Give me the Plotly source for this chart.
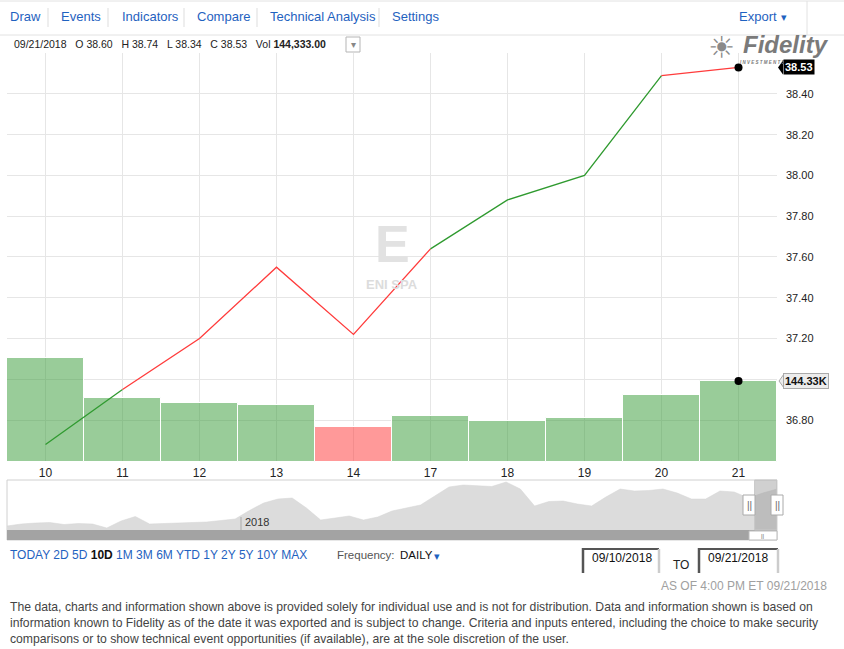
import pandas as pd
import plotly.graph_objects as go

W, H = 844, 649

# 10 trading days shown (09/10/2018 - 09/21/2018)
days = ["10", "11", "12", "13", "14", "17", "18", "19", "20", "21"]
close = [36.68, 36.95, 37.20, 37.55, 37.22, 37.64, 37.88, 38.00, 38.49, 38.53]
volume = [185300, 114000, 105100, 101600, 62400, 82000, 73000, 78400, 119400, 144333]
# did the day close above its open? colours the line segment ending on that day
day_up = [True, True, False, False, False, False, True, True, True, False]

price_ticks = [36.80, 37.00, 37.20, 37.40, 37.60, 37.80, 38.00, 38.20, 38.40, 38.60]
hidden_ticks = [37.00, 38.60]   # covered by the volume tag / top edge in the original

# navigator: weekly level of the longer history (relative height)
nav_dates = pd.date_range("2017-09-08", periods=55, freq="7D")
nav_level = [4, 6, 7, 7.5, 5.5, 6.5, 6, 2, 9, 13.5, 6, 6.5, 6.5, 7, 8, 9.5, 11, 19.5,
             27, 31, 32, 22, 10, 12, 14, 10, 13, 19, 22, 25, 34, 43, 45, 44.5, 43.5,
             48, 41, 24, 28.5, 29, 26, 24, 33, 41, 39, 39.5, 41, 37, 31, 31, 39, 38,
             32, 37, 41]
sel_start, sel_end = "2018-09-10", "2018-09-21"

GREEN_LINE = "#2f9a2f"
RED_LINE = "#ff3b3b"
GREEN_BAR = "rgba(51,153,51,0.5)"
RED_BAR = "rgba(255,51,51,0.5)"
BLUE = "#1f62c0"
FONT = "Liberation Sans, Arial, sans-serif"


def X(p):
    return p / W


def Y(p):
    return 1 - p / H


fig = go.Figure()

# volume bars (base axes, drawn first)
bar_colors = [GREEN_BAR if i == 0 or close[i] >= close[i - 1] else RED_BAR for i in range(len(close))]
fig.add_trace(go.Bar(x=days, y=volume, marker=dict(color=bar_colors, line=dict(color="white", width=1)),
                     width=1, xaxis="x", yaxis="y", showlegend=False, hoverinfo="skip"))

# price line, split into coloured runs
i = 1
while i < len(days):
    j = i
    while j + 1 < len(days) and day_up[j + 1] == day_up[i]:
        j += 1
    fig.add_trace(go.Scatter(x=days[i - 1:j + 1], y=close[i - 1:j + 1], mode="lines",
                             line=dict(color=GREEN_LINE if day_up[i] else RED_LINE, width=1.3),
                             xaxis="x", yaxis="y2", showlegend=False, hoverinfo="skip"))
    i = j + 1

# last point markers
fig.add_trace(go.Scatter(x=[days[-1]], y=[close[-1]], mode="markers", marker=dict(color="black", size=8),
                         xaxis="x", yaxis="y2", showlegend=False))
fig.add_trace(go.Scatter(x=[days[-1]], y=[volume[-1]], mode="markers", marker=dict(color="black", size=8),
                         xaxis="x", yaxis="y", showlegend=False))

# navigator area
fig.add_trace(go.Scatter(x=nav_dates, y=nav_level, mode="lines", fill="tozeroy",
                         line=dict(color="#d4d4d4", width=0.5), fillcolor="#dcdcdc",
                         xaxis="x3", yaxis="y3", showlegend=False, hoverinfo="skip"))

plot_x = [X(7), X(777)]
fig.update_layout(
    width=W, height=H,
    margin=dict(l=0, r=0, t=0, b=0),
    paper_bgcolor="white", plot_bgcolor="white",
    font=dict(family=FONT, color="#222", size=12),
    bargap=0,
    xaxis=dict(domain=plot_x, anchor="y", type="category", range=[-0.5, 9.5],
               showgrid=True, gridcolor="#e6e6e6", ticks="", showline=False, zeroline=False,
               tickfont=dict(size=12, color="#222"), ticklabelstandoff=2),
    yaxis=dict(domain=[Y(462), Y(53)], range=[0, 728800], visible=False, showgrid=False),
    yaxis2=dict(overlaying="y", anchor="x", side="right", range=[36.594, 38.601],
                tickvals=price_ticks,
                ticktext=["" if v in hidden_ticks else "%.2f" % v for v in price_ticks],
                showgrid=True, gridcolor="#e6e6e6", zeroline=False, showline=False, ticks="",
                tickfont=dict(size=11, color="#222"), ticklabelstandoff=8),
    xaxis3=dict(domain=plot_x, anchor="y3", type="date", range=["2017-09-08", "2018-09-21"], visible=False),
    yaxis3=dict(domain=[Y(530), Y(480)], range=[0, 50], visible=False),
)

shapes = []
ann = []


def line(x0, y0, x1, y1, color="#dddddd", width=1):
    shapes.append(dict(type="line", xref="paper", yref="paper", x0=X(x0), y0=Y(y0), x1=X(x1), y1=Y(y1),
                       line=dict(color=color, width=width)))


def rect(x0, y0, x1, y1, fill, lc=None, lw=1, layer="above"):
    shapes.append(dict(type="rect", xref="paper", yref="paper", x0=X(x0), y0=Y(y0), x1=X(x1), y1=Y(y1),
                       fillcolor=fill, line=dict(color=lc or fill, width=lw if lc else 0), layer=layer))


def text(x, y, s, size=12, color="#222", xanchor="left", **kw):
    ann.append(dict(xref="paper", yref="paper", x=X(x), y=Y(y), text=s, showarrow=False,
                    xanchor=xanchor, yanchor="middle", font=dict(size=size, color=color, family=kw.pop("family", FONT)), **kw))


# toolbar
line(0, 1, W, 1, "#e2e2e2")
line(0, 35, W, 35, "#e2e2e2")
for lbl, x in [("Draw", 8), ("Events", 59), ("Indicators", 120), ("Compare", 195),
               ("Technical Analysis", 268), ("Settings", 390)]:
    text(x, 17, lbl, 13, BLUE)
for x in [48, 108, 184, 257, 379]:
    line(x, 8, x, 27, "#dddddd")
text(737, 17, "Export", 13, BLUE)
text(779, 17, "▾", 11, BLUE)
line(807, 1, 807, 35, "#e2e2e2")

# info row
text(12, 44, "09/21/2018&nbsp;&nbsp; O 38.60&nbsp;&nbsp; H 38.74&nbsp;&nbsp; L 38.34&nbsp;&nbsp; C 38.53&nbsp;&nbsp; Vol <b>144,333.00</b>",
     10.5, "#222")
rect(346, 37, 360, 52, "white", "#b5b5b5")
text(353, 45, "▾", 10, "#888", xanchor="center")

# logo
text(721, 47, "☀", 30, "#8a8a8a", xanchor="center", family="DejaVu Sans")
text(786, 45, "<b><i>Fidelity</i></b>", 24, "#7a7a7a", xanchor="center")
text(762, 62, "<b><i>I N V E S T M E N T S</i></b>", 4.5, "#7a7a7a", xanchor="center")

# watermark
text(392, 244, "<b>E</b>", 52, "#e2e2e2", xanchor="center")
text(392, 284, "<b>ENI SPA</b>", 13, "#dcdcdc", xanchor="center")

# last value tags
ann.append(dict(xref="paper", yref="y2", x=X(783), y=close[-1], text="<b>%.2f</b>" % close[-1], showarrow=False,
                xanchor="left", yanchor="middle", bgcolor="black", borderpad=1,
                font=dict(size=11, color="white", family=FONT)))
shapes.append(dict(type="path", xref="paper", yref="y2", xsizemode="pixel", ysizemode="pixel",
                   xanchor=X(783), yanchor=close[-1], path="M -5 0 L 0 7 L 0 -7 Z",
                   fillcolor="black", line=dict(width=0)))
ann.append(dict(xref="paper", yref="y", x=X(783), y=volume[-1], text="<b>%.2fK</b>" % (volume[-1] / 1000),
                showarrow=False, xanchor="left", yanchor="middle", bgcolor="#ececec", bordercolor="#aaaaaa",
                borderwidth=1, borderpad=1, font=dict(size=11, color="#111", family=FONT)))
shapes.append(dict(type="path", xref="paper", yref="y", xsizemode="pixel", ysizemode="pixel",
                   xanchor=X(784), yanchor=volume[-1], path="M -5 0 L 0 7 L 0 -7 Z",
                   fillcolor="#ececec", line=dict(color="#aaaaaa", width=1)))

# navigator frame, selection and scrollbar
rect(7, 480, 777, 540, "rgba(0,0,0,0)", "#d0d0d0", layer="below")
rect(7, 530, 777, 540, "#a3a3a3")
shapes.append(dict(type="rect", xref="x3", yref="paper", x0=sel_start, x1=sel_end, y0=Y(530), y1=Y(480),
                    fillcolor="rgba(150,150,150,0.45)", line=dict(color="#c8c8c8", width=1)))
rect(749, 531, 777, 540, "white", "#bbbbbb")
text(763, 535.5, "||", 6, "#666", xanchor="center")
for hx in [749, 777]:
    shapes.append(dict(type="rect", xref="paper", yref="paper", x0=X(hx - 6), x1=X(hx + 6),
                        y0=Y(515), y1=Y(495), fillcolor="white", line=dict(color="#aaaaaa", width=1)))
    text(hx, 505, "||", 10, "#666", xanchor="center")
line(241, 517, 241, 530, "#aaaaaa")
text(243, 522, "2018", 11, "#333")

# range selector row
periods = ["TODAY", "2D", "5D", "10D", "1M", "3M", "6M", "YTD", "1Y", "2Y", "5Y", "10Y", "MAX"]
parts = ["<b>10D</b>" if p == "10D" else '<span style="color:%s">%s</span>' % (BLUE, p) for p in periods]
text(8, 555, " ".join(parts), 12, "#111")
text(335, 555, "Frequency:", 11.5, "#555")
text(398, 555, "DAILY", 11.5, "#111")
text(437, 556, "▾", 11, BLUE, xanchor="center")

for x0, x1, d in [(582, 659, "09/10/2018"), (698, 778, "09/21/2018")]:
    line(x0 + 1, 548, x0 + 1, 573, "#555555", 2.5)
    line(x0, 549, x1, 549, "#555555", 2)
    line(x1, 549, x1, 573, "#cccccc", 2.5)
    text(x0 + 8, 558, d, 12, "#111")
text(681, 565, "TO", 12, "#222", xanchor="center")
text(829, 586, "AS OF 4:00 PM ET 09/21/2018", 12, "#a0a0a0", xanchor="right")

# disclaimer
for y, s in [(607, "The data, charts and information shown above is provided solely for individual use and is not for distribution. Data and information shown is based on"),
             (623, "information known to Fidelity as of the date it was exported and is subject to change. Criteria and inputs entered, including the choice to make security"),
             (639, "comparisons or to show technical event opportunities (if available), are at the sole discretion of the user.")]:
    text(8, y, s, 12.2, "#444")

fig.update_layout(shapes=shapes, annotations=ann)
# drop the browser's default body margin so the figure fills the window exactly
fig.write_html("out.html", config={"displayModeBar": False},
               post_script="document.body.style.margin='0';document.body.style.overflow='hidden';")
